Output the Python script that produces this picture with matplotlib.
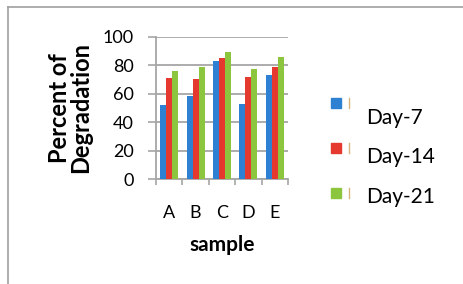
import numpy as np
import matplotlib; matplotlib.use("Agg")
import matplotlib.pyplot as plt
from matplotlib.lines import Line2D
from matplotlib.patches import Rectangle

# ── Data ───────────────────────────────────────────────────────────────────────
samples = ["A", "B", "C", "D", "E"]
series  = ["Day-7", "Day-14", "Day-21"]
day7    = [52, 58, 83, 53, 73]
day14   = [71, 70, 85, 72, 79]
day21   = [76, 79, 89, 77, 86]
colors  = ["#2e80d2", "#e5382f", "#8cc53e"]
yticks  = [0, 20, 40, 60, 80, 100]

plt.rcParams["font.family"] = ["Lato", "DejaVu Sans"]

W, H = 464, 284
fig = plt.figure(figsize=(W / 100, H / 100), dpi=100)

def fx(px): return px / W
def fy(py): return 1 - py / H

ax = fig.add_axes([fx(156), fy(179), fx(288) - fx(156), fy(36.7) - fy(179)])

x = np.arange(len(samples))
bw = 0.225
for k, (vals, c) in enumerate(zip([day7, day14, day21], colors)):
    ax.bar(x + (k - 1) * bw, vals, width=bw, color=c, zorder=3)

ax.set_xlim(-0.5, len(samples) - 0.5)
ax.set_ylim(0, 100)
ax.set_yticks(yticks)
ax.set_yticklabels([str(v) for v in yticks], fontsize=13)
ax.set_xticks(x)
ax.set_xticklabels(samples, fontsize=13)
ax.set_xticks(np.arange(len(samples) + 1) - 0.5, minor=True)
ax.tick_params(axis="x", which="major", length=0, pad=18.5)
ax.tick_params(axis="x", which="minor", length=4.5, color="#a6a6a6", width=1.2)
ax.tick_params(axis="y", length=5.8, color="#a6a6a6", width=1.2, pad=10)
ax.grid(axis="y", color="#a6a6a6", lw=1.3, zorder=0)
for s in ["top", "right"]:
    ax.spines[s].set_visible(False)
for s in ["left", "bottom"]:
    ax.spines[s].set_color("#a6a6a6")
    ax.spines[s].set_linewidth(1.3)

ax.set_xlabel("sample", fontsize=15, fontweight="bold", va="center")
ax.xaxis.set_label_coords(0.5, (179 - 245) / 142.3)
ax.set_ylabel("Percent of\nDegradation", fontsize=17, fontweight="bold",
              va="center", linespacing=0.9)
ax.yaxis.set_label_coords((70 - 156) / 132, 0.5)

# ── Legend (drawn by hand, Excel-style offset labels) ─────────────────────────
mark_y = [103, 148, 193]
text_y = [118, 157, 197]
for name, c, my, ty in zip(series, colors, mark_y, text_y):
    fig.add_artist(Rectangle((fx(331), fy(my + 5)), fx(10), fy(my - 5) - fy(my + 5),
                             transform=fig.transFigure, color=c))
    fig.add_artist(Line2D([fx(349), fx(349)], [fy(my + 5), fy(my - 5)],
                          transform=fig.transFigure, color="#d8b47c", lw=1))
    fig.text(fx(366), fy(ty), name, fontsize=15, va="center", ha="left")

# ── Outer frame ───────────────────────────────────────────────────────────────
fig.add_artist(Line2D([fx(8), 1], [fy(7), fy(7)], transform=fig.transFigure,
                      color="#a0a0a0", lw=1.2))
fig.add_artist(Line2D([fx(8), fx(8)], [fy(7), 0], transform=fig.transFigure,
                      color="#a0a0a0", lw=1.2))

fig.savefig("out.png", dpi=100)
